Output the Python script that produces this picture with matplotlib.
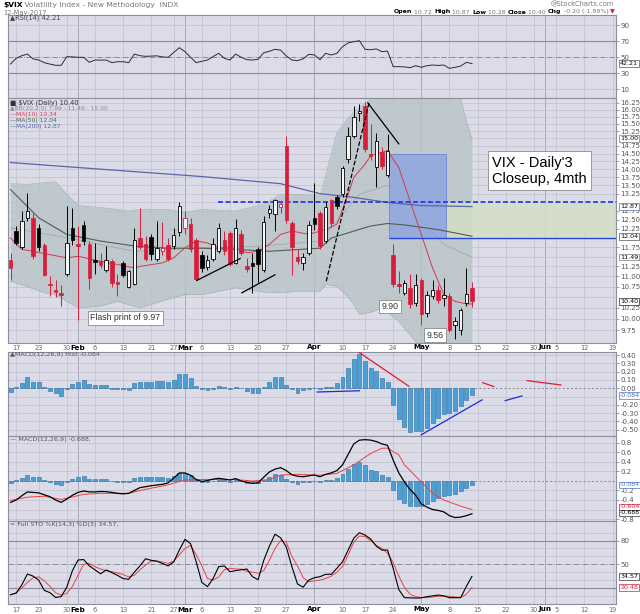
import numpy as np
import pandas as pd
import matplotlib
matplotlib.use("Agg")
import matplotlib.pyplot as plt
from matplotlib.patches import Rectangle
from matplotlib.ticker import NullLocator

W, H = 640, 614

# trading calendar: Jan 13 - May 12 2017 data, axis runs on to Jun 19
holidays = ["2017-01-16", "2017-02-20", "2017-04-14", "2017-05-29"]
days = pd.bdate_range("2017-01-13", "2017-06-20")
days = days[~days.isin(pd.to_datetime(holidays))]

# daily candles, $VIX
opens = [11.42, 12.18, 11.75, 12.55, 12.55, 12.27, 11.80, 10.80, 10.65, 10.58, 11.06, 12.27, 11.80, 12.35,
         11.82, 11.40, 11.38, 11.15, 11.40, 10.83, 11.34, 10.73, 10.81, 12.00, 11.82, 12.01, 11.45, 11.65,
         11.80, 11.78, 12.16, 12.27, 12.38, 11.93, 11.55, 11.24, 11.44, 11.64, 11.95, 12.13, 11.34, 12.09,
         11.27, 11.34, 11.69, 11.15, 12.69, 12.65, 12.86, 14.76, 12.41, 11.50, 11.34, 11.60, 12.55, 12.70,
         11.90, 13.05, 13.14, 13.23, 14.32, 15.09, 15.88, 16.15, 14.45, 14.06, 14.54, 13.82, 11.53, 10.78,
         10.60, 10.72, 10.36, 10.90, 10.13, 10.52, 10.68, 10.49, 10.52, 9.86, 9.74, 10.36, 10.72]
highs = [11.60, 12.32, 12.74, 13.28, 12.70, 12.37, 11.85, 11.00, 10.90, 10.80, 12.88, 12.83, 12.32, 12.45,
         11.90, 11.85, 11.60, 11.78, 11.45, 11.05, 11.40, 11.16, 12.27, 12.83, 12.04, 12.09, 12.46, 12.42,
         12.00, 12.27, 12.99, 12.74, 12.55, 12.00, 11.65, 11.55, 12.00, 12.41, 12.18, 12.18, 12.51, 12.20,
         11.47, 11.60, 11.75, 12.60, 12.92, 13.10, 13.00, 15.07, 12.45, 11.70, 11.60, 12.45, 13.58, 12.75,
         13.00, 13.10, 13.20, 14.10, 15.38, 16.15, 16.22, 16.28, 15.50, 15.20, 14.70, 15.15, 11.82, 11.13,
         10.92, 11.05, 11.05, 10.95, 10.65, 10.92, 10.80, 10.97, 10.60, 10.05, 10.25, 11.21, 10.87]
lows = [10.92, 11.80, 11.70, 12.45, 11.45, 11.64, 11.00, 10.52, 10.50, 10.30, 11.00, 11.80, 9.97, 11.80,
        10.70, 11.05, 11.20, 11.10, 10.73, 10.52, 10.98, 10.72, 10.78, 11.70, 11.40, 11.42, 11.40, 11.55,
        11.40, 11.70, 12.05, 12.10, 11.62, 10.90, 11.10, 11.15, 11.40, 11.60, 11.55, 11.25, 11.30, 11.55,
        11.12, 10.60, 10.85, 11.10, 12.55, 12.18, 12.70, 12.40, 11.04, 11.30, 11.15, 11.55, 12.20, 11.70,
        11.85, 12.30, 12.80, 13.15, 14.20, 15.00, 15.60, 14.55, 14.30, 13.45, 14.00, 13.75, 10.75, 10.60,
        10.55, 10.25, 10.30, 9.87, 10.05, 10.45, 10.35, 10.30, 9.70, 9.56, 9.65, 10.30, 10.28]
closes = [11.21, 11.86, 12.46, 12.74, 11.51, 11.76, 11.04, 10.78, 10.63, 10.56, 11.86, 11.95, 11.78, 11.91,
          10.95, 11.36, 11.28, 11.42, 10.85, 10.81, 11.04, 11.14, 11.95, 11.76, 11.45, 11.56, 11.73, 11.72,
          11.45, 12.06, 12.89, 12.53, 11.69, 10.93, 11.21, 11.42, 11.84, 12.27, 11.64, 11.32, 12.27, 11.60,
          11.19, 11.25, 11.31, 12.44, 12.80, 13.06, 12.95, 12.48, 11.74, 11.40, 11.50, 12.34, 12.38, 11.78,
          12.85, 12.39, 12.88, 14.03, 15.09, 15.73, 15.97, 14.64, 14.42, 14.90, 14.11, 14.60, 10.82, 10.76,
          10.84, 10.33, 10.80, 10.10, 10.56, 10.68, 10.44, 10.56, 9.76, 9.96, 10.21, 10.58, 10.40]

# overlays at sample days (trading-day number from Jan 13)
ma10_day = [0, 2, 4, 7, 10, 12, 16, 19, 22, 23, 27, 29, 31, 33, 35, 37, 40, 42, 44, 46, 48, 50, 53,
            55, 56, 58, 60, 61, 63, 64, 67, 69, 71, 73, 75, 77, 79, 81, 82]
ma10 = [11.99, 11.69, 11.64, 11.55, 11.47, 11.51, 11.38, 11.30, 11.21, 11.25, 11.34, 11.47, 11.73, 11.91,
        11.86, 11.73, 11.72, 11.60, 11.64, 11.82, 12.09, 12.18, 12.09, 12.18, 12.22, 12.37, 13.23, 13.74,
        14.16, 14.43, 14.60, 14.05, 13.03, 12.09, 11.21, 10.56, 10.40, 10.34, 10.34]
ma50_day = [0, 5, 10, 16, 22, 28, 34, 40, 46, 55, 57, 61, 64, 67, 70, 76, 82]
ma50 = [13.37, 12.55, 12.09, 11.91, 11.78, 11.72, 11.72, 11.69, 11.64, 11.72, 11.99, 12.18, 12.32, 12.39,
        12.35, 12.22, 12.04]
ma200_day = [0, 16, 34, 48, 55, 61, 67, 73, 82]
ma200 = [14.21, 14.00, 13.77, 13.55, 13.25, 13.14, 12.99, 12.90, 12.87]
bb_day = [0, 3, 6, 8, 10, 12, 16, 19, 21, 23, 28, 31, 34, 40, 45, 48, 51, 55, 56, 58, 60, 61, 62, 64,
          66, 69, 70, 73, 76, 80, 81, 82]
bb_upper = [13.55, 13.53, 13.58, 13.61, 13.23, 12.90, 12.84, 12.79, 12.74, 12.79, 12.79, 12.69, 12.79,
            12.74, 12.94, 13.23, 13.23, 13.18, 13.80, 15.20, 15.70, 15.90, 16.09, 16.40, 16.70, 17.00,
            17.00, 17.10, 17.00, 16.40, 15.60, 15.00]
bb_lower = [10.88, 10.75, 10.60, 10.55, 10.40, 10.25, 10.29, 10.40, 10.32, 10.25, 10.45, 10.56, 10.56,
            10.72, 10.62, 10.60, 10.64, 10.64, 10.80, 10.76, 10.50, 10.32, 10.10, 10.15, 10.25, 9.94,
            9.79, 9.35, 8.80, 8.30, 8.10, 7.99]
bb_mid_day = [0, 10, 22, 34, 45, 55, 58, 62, 67, 70, 73, 77, 82]
bb_mid = [12.27, 12.00, 11.64, 11.73, 11.78, 11.91, 12.46, 13.23, 13.50, 13.23, 12.46, 11.82, 11.49]

rsi = [41.6, 48.7, 52, 54, 48, 46.6, 43.3, 41.5, 40, 40, 50.8, 50.5, 50, 50, 43.7, 46.6, 46.5, 46.6, 43.3,
       44.5, 44.5, 43.3, 54, 52, 51.2, 51.5, 51.8, 50.5, 50, 56, 62, 57, 50, 43.3, 45, 46.6, 51, 55, 48.7,
       46.6, 54, 50, 47, 46.6, 47.5, 55.7, 57.5, 60, 59, 51.7, 46.6, 45.8, 48, 53.7, 53, 47, 55, 52.9, 55,
       63.3, 68, 69.5, 70.8, 60, 59.5, 60.5, 57, 57.8, 38.3, 38.3, 38, 37, 39.5, 37.5, 39.5, 40.4, 39.8,
       40.4, 36.2, 37.5, 39, 43.7, 42.2]

macd_hist = [-0.04, 0.02, 0.068, 0.13, 0.08, 0.076, 0.012, -0.028, -0.06, -0.092, -0.012, 0.052, 0.08, 0.10,
             0.048, 0.04, 0.04, 0.036, -0.004, -0.012, -0.012, -0.02, 0.06, 0.08, 0.08, 0.08, 0.092, 0.092,
             0.072, 0.10, 0.17, 0.17, 0.12, 0.028, -0.012, -0.02, -0.004, 0.028, 0.02, -0.012, 0.02, 0.008,
             -0.032, -0.052, -0.052, 0.012, 0.08, 0.14, 0.13, 0.04, -0.012, -0.06, -0.02, -0.012, 0.004,
             -0.012, 0.02, 0.02, 0.06, 0.14, 0.25, 0.35, 0.41, 0.33, 0.24, 0.21, 0.12, 0.08, -0.20, -0.37,
             -0.47, -0.53, -0.52, -0.52, -0.48, -0.42, -0.36, -0.31, -0.30, -0.27, -0.21, -0.14, -0.084]
macd_line = [-0.45, -0.40, -0.31, -0.23, -0.24, -0.25, -0.29, -0.33, -0.40, -0.45, -0.38, -0.30, -0.24,
             -0.21, -0.23, -0.23, -0.22, -0.225, -0.24, -0.26, -0.27, -0.26, -0.20, -0.14, -0.12, -0.10,
             -0.084, -0.07, -0.04, 0.06, 0.17, 0.17, 0.12, 0.03, -0.01, 0.01, 0.04, 0.056, 0.04, 0.02, 0.05,
             0.0, -0.03, -0.05, -0.04, 0.08, 0.19, 0.25, 0.28, 0.22, 0.13, 0.10, 0.09, 0.11, 0.126, 0.09,
             0.14, 0.17, 0.22, 0.34, 0.56, 0.78, 0.86, 0.87, 0.86, 0.83, 0.78, 0.75, 0.44, 0.17, -0.02,
             -0.18, -0.30, -0.48, -0.55, -0.60, -0.62, -0.65, -0.73, -0.77, -0.76, -0.73, -0.69]
signal_day = [0, 3, 6, 9, 13, 16, 21, 23, 28, 30, 31, 34, 40, 43, 46, 48, 51, 54, 55, 58, 61, 64, 66, 67,
              69, 70, 73, 75, 77, 80, 82]
signal_line = [-0.41, -0.34, -0.32, -0.39, -0.28, -0.26, -0.26, -0.20, -0.08, -0.01, 0.02, 0.03, 0.03, 0.0,
               0.03, 0.126, 0.14, 0.126, 0.12, 0.16, 0.34, 0.58, 0.69, 0.69, 0.55, 0.34, -0.02, -0.26,
               -0.40, -0.53, -0.60]

sto_k = [11.5, 13.5, 23.8, 37.7, 35, 30, 17, 14.1, 8, 9, 21, 42, 55.4, 56, 48, 43, 38, 42.8, 39.5, 36, 32,
         31, 40, 48, 57, 55, 54, 51, 48, 53, 68, 81.6, 76, 53, 27, 21.7, 32, 47, 47.8, 40.6, 42, 43, 44,
         34.3, 30.5, 55, 73, 88, 83.5, 72, 47, 25, 21, 30, 33, 34.3, 37.3, 37.3, 45, 53, 68, 83, 90, 87, 82,
         73, 68, 68, 45, 18, 7.7, 7.5, 7.2, 7.5, 9, 10, 11, 10, 7.7, 7.7, 7.7, 22, 34.6]
sto_d = [11.1, 14, 20, 27, 33, 34, 29, 22, 14, 11, 13, 22, 36, 50, 51, 47, 44, 42, 40.6, 39, 37, 34, 36,
         43, 49, 54, 54, 53, 51, 54, 62, 70, 74, 62, 48, 32, 30, 34, 43, 45, 44, 44, 41, 40, 38.6, 42, 55,
         70, 80, 78, 60, 48, 33, 28, 29, 30, 32, 35, 40, 47, 62, 78, 85.8, 85, 80, 74, 70, 64, 52, 35, 21,
         12, 9, 8, 7.7, 8.5, 9.5, 9.8, 9.5, 8.5, 8, 12, 20.5]

# hand drawn trend lines (day0, value0, day1, value1)
price_lines = [(56.1, 10.88, 63.7, 16.25, "--"), (63.5, 16.25, 69.0, 14.82, "-"),
               (33.1, 10.90, 40.8, 11.45, "-"), (41.1, 10.60, 47.0, 11.04, "-")]
hist_lines = [(54.5, -0.045, 62.0, -0.03, "blue"), (61.9, 0.434, 70.8, 0.024, "red"),
              (73.0, -0.56, 83.8, -0.14, "blue"), (83.9, 0.068, 85.9, 0.02, "red"),
              (87.9, -0.149, 90.9, -0.092, "blue"), (91.8, 0.092, 97.8, 0.04, "red")]

BG = "#dcdce9"
GRID = "#c3c3d3"
MGRID = "#a9a9bb"
RED = "#d81c3c"
XMIN, XMAX = -0.45, 107.6
n = len(closes)
x = np.arange(n)

fig = plt.figure(figsize=(W / 100, H / 100), dpi=100)
fig.patch.set_facecolor("white")


def panel(top, bottom):
    a = fig.add_axes([8 / W, 1 - bottom / H, 608 / W, (bottom - top) / H])
    a.set_facecolor(BG)
    a.set_xlim(XMIN, XMAX)
    a.set_xticks([])
    for s in a.spines.values():
        s.set_color("#8e8e9e")
        s.set_linewidth(0.8)
    a.yaxis.tick_right()
    a.tick_params(axis="y", length=2, width=0.5, pad=1, labelsize=5, labelcolor="#555555", color="#777777")
    return a


# week / month ticks from the calendar
cal = pd.Series(days)
new_week = cal.dt.isocalendar().week.astype(int).diff().fillna(0) != 0
new_month = cal.dt.month.diff().fillna(0) != 0
ticks = []
for k in range(len(cal)):
    if new_month[k]:
        ticks.append((k, cal[k].strftime("%b"), True))
    elif new_week[k]:
        ticks.append((k, str(cal[k].day), False))


def vgrid(a):
    for k, lab, m in ticks:
        a.axvline(k, color=MGRID if m else GRID, lw=0.7 if m else 0.6, zorder=0)


def hgrid(a, vals, color=GRID):
    for v in vals:
        a.axhline(v, color=color, lw=0.6, zorder=0)


def tag(a, val, txt, ec, tc="black"):
    a.annotate(txt, xy=(1, val), xycoords=("axes fraction", "data"), xytext=(3, 0),
               textcoords="offset points", fontsize=4.6, color=tc, va="center", ha="left",
               bbox=dict(boxstyle="square,pad=0.12", fc="white", ec=ec, lw=0.5), annotation_clip=False)


# ---------------- RSI
ax_rsi = panel(15, 98)
ax_rsi.set_ylim(-0.9, 102.9)
vgrid(ax_rsi)
hgrid(ax_rsi, [10, 90])
ax_rsi.axhline(70, color="#8a8a9a", lw=0.8)
ax_rsi.axhline(30, color="#8a8a9a", lw=0.8)
ax_rsi.axhline(50, color="#7a7a8a", lw=0.6, ls="-.")
ax_rsi.plot(x, rsi, color="#2b2b2b", lw=0.7)
ax_rsi.set_yticks([90, 70, 50, 30, 10])
ax_rsi.set_yticklabels(["90", "70", "50", "30", "10"])
tag(ax_rsi, 42.21, "42.21", "#555555")

# ---------------- price
ax = panel(98, 343)
ax.set_yscale("log")
ax.set_ylim(9.47, 16.43)
price_ticks = [9.75 + 0.25 * k for k in range(27)]
shown = [t for t in price_ticks if t not in (15.0, 13.0, 12.0, 11.5, 10.5)]
ax.yaxis.set_minor_locator(NullLocator())
ax.set_yticks(shown)
ax.set_yticklabels(["%.2f" % t for t in shown])
vgrid(ax)
hgrid(ax, price_ticks)

ax.fill_between(bb_day, bb_lower, bb_upper, color="#b7c4c7", alpha=0.8, lw=0, zorder=1)
ax.plot(bb_day, bb_upper, color="#a8b5b9", lw=0.5, zorder=1)
ax.plot(bb_day, bb_lower, color="#a8b5b9", lw=0.5, zorder=1)
ax.plot(bb_mid_day, bb_mid, color="#9aa6aa", lw=0.5, zorder=1)

# highlighted zones
ax.add_patch(Rectangle((77.3, 12.0), XMAX - 77.3, 1.0, fc="#d3dfc6", ec="none", alpha=0.85, zorder=1.5))
ax.add_patch(Rectangle((67.3, 12.0), 10.0, 2.5, fc="#8da4e0", ec="#5b7ad6", lw=0.6, alpha=0.8, zorder=1.6))
ax.hlines(12.0, 67.3, XMAX, color="#2646d8", lw=1.0, zorder=4)
ax.hlines(13.0, 36.9, XMAX, color="#1a36e6", lw=1.2, ls=(0, (3, 1.5)), zorder=4)

ax.plot(ma200_day, ma200, color="#5a66a8", lw=0.9, zorder=2)
ax.plot(ma50_day, ma50, color="#4f5e50", lw=0.8, zorder=2)
ax.plot(ma10_day, ma10, color="#d8384a", lw=0.7, zorder=3)

for k in range(n):
    o, h, l, c = opens[k], highs[k], lows[k], closes[k]
    prev = closes[k - 1] if k > 0 else o
    col = RED if c < prev else "black"
    ax.vlines(k, l, h, color=col, lw=0.7, zorder=5)
    lo, hi = min(o, c), max(o, c)
    hi = max(hi, lo * 1.004)
    if c < o:
        ax.bar(k, hi - lo, bottom=lo, width=0.62, color=col, edgecolor=col, lw=0.5, zorder=6)
    else:
        ax.bar(k, hi - lo, bottom=lo, width=0.62, color="#f6f6fa", edgecolor=col, lw=0.6, zorder=6)

for x0, y0, x1, y1, st in price_lines:
    ax.plot([x0, x1], [y0, y1], color="black", lw=0.9, ls=st, zorder=7)

box = dict(boxstyle="square,pad=0.25", fc="white", ec="#8a8a8a", lw=0.6)
ax.text(14.2, 10.02, "Flash print of 9.97", fontsize=6.3, family="Liberation Sans", color="#333333",
        va="center", bbox=box, zorder=8)
ax.text(65.9, 10.28, "9.90", fontsize=6.3, family="Liberation Sans", color="#333333", va="center",
        bbox=box, zorder=8)
ax.text(73.9, 9.64, "9.56", fontsize=6.3, family="Liberation Sans", color="#333333", va="center",
        bbox=box, zorder=8)
ax.text(85.6, 13.95, "VIX - Daily'3\nCloseup, 4mth", fontsize=10.5, family="Liberation Sans",
        color="black", va="center", linespacing=1.2,
        bbox=dict(boxstyle="square,pad=0.3", fc="white", ec="#8a8a8a", lw=0.6), zorder=8)

tag(ax, 15.00, "15.00", "#777777")
tag(ax, 12.87, "12.87", "#5a66a8")
tag(ax, 12.04, "12.04", "#555555")
tag(ax, 11.49, "11.49", "#777777")
tag(ax, 10.40, "10.40", "#222222")

# ---------------- MACD histogram
ax_h = panel(352, 436)
ax_h.set_ylim(-0.575, 0.437)
vgrid(ax_h)
hgrid(ax_h, [0.4, 0.3, 0.2, 0.1, -0.1, -0.2, -0.3, -0.4, -0.5])
ax_h.axhline(0, color="#6a6a7a", lw=0.5, ls=(0, (3, 3)))
ax_h.bar(x, macd_hist, width=0.7, color="#4aa0d6", edgecolor="#2c6f9e", lw=0.4, zorder=3)
for x0, y0, x1, y1, c in hist_lines:
    ax_h.plot([x0, x1], [y0, y1], color="#1a2ae0" if c == "blue" else "#e01a2a", lw=0.9, zorder=4)
hticks = [0.4, 0.3, 0.2, 0.1, 0.0, -0.2, -0.3, -0.4, -0.5]
ax_h.set_yticks(hticks)
ax_h.set_yticklabels(["%.2f" % v for v in hticks])
tag(ax_h, -0.084, "-0.084", "#4a70c8", "#4a70c8")

# ---------------- MACD
ax_m = panel(436, 521)
ax_m.set_ylim(-0.842, 0.947)
vgrid(ax_m)
hgrid(ax_m, [0.8, 0.6, 0.4, 0.2, -0.2, -0.4, -0.6, -0.8])
ax_m.axhline(0, color="#6a6a7a", lw=0.5, ls=(0, (3, 3)))
ax_m.bar(x, macd_hist, width=0.7, color="#4aa0d6", edgecolor="#2c6f9e", lw=0.4, zorder=3)
ax_m.plot(signal_day, signal_line, color="#f04040", lw=0.7, zorder=4)
ax_m.plot(x, macd_line, color="black", lw=0.9, zorder=5)
mticks = [0.8, 0.6, 0.4, 0.2, -0.2, -0.4, -0.8]
ax_m.set_yticks(mticks)
ax_m.set_yticklabels(["%.1f" % v for v in mticks])
tag(ax_m, -0.084, "-0.084", "#4a70c8", "#4a70c8")
tag(ax_m, -0.545, "-0.604", RED, RED)
tag(ax_m, -0.672, "-0.688", "#333333")

# ---------------- Full stochastics
ax_s = panel(521, 604)
ax_s.set_ylim(-0.3, 104.8)
vgrid(ax_s)
hgrid(ax_s, [10, 30, 40, 60, 70, 90])
ax_s.axhline(80, color="#8a8a9a", lw=0.8)
ax_s.axhline(20, color="#8a8a9a", lw=0.8)
ax_s.axhline(50, color="#7a7a8a", lw=0.6, ls="-.")
ax_s.plot(x, sto_d, color="#f04040", lw=0.7)
ax_s.plot(x, sto_k, color="black", lw=0.8)
ax_s.set_yticks([80, 50])
ax_s.set_yticklabels(["80", "50"])
tag(ax_s, 34.57, "34.57", "#333333")
tag(ax_s, 20.48, "20.48", RED, RED)

# date labels: strip under the price panel and below the last panel
for k, lab, m in ticks:
    for a, yy in ((ax_h, 1 + 4.5 / 84), (ax_s, -5.5 / 83)):
        a.text(k, yy, lab, transform=a.get_xaxis_transform(), ha="center", va="center",
               fontsize=5.2 if m else 4.8, fontweight="bold" if m else "normal",
               color="black" if m else "#666666", clip_on=False)


# ---------------- header and legends
def line_of_text(parts, x0, y0, size=5.0):
    t = fig.text(x0 / W, 1 - y0 / H, parts[0][0], color=parts[0][1], fontsize=size,
                 fontweight=parts[0][2], va="center", ha="left")
    for txt, col, wt in parts[1:]:
        t = ax_rsi.annotate(txt, xy=(1, 0.5), xycoords=t, va="center", ha="left", color=col,
                            fontsize=size, fontweight=wt, annotation_clip=False)


def line_right(parts, x1, y0, size=5.0):
    t = fig.text(x1 / W, 1 - y0 / H, parts[-1][0], color=parts[-1][1], fontsize=size,
                 fontweight=parts[-1][2], va="center", ha="right")
    for txt, col, wt in reversed(parts[:-1]):
        t = ax_rsi.annotate(txt, xy=(0, 0.5), xycoords=t, va="center", ha="right", color=col,
                            fontsize=size, fontweight=wt, annotation_clip=False)


line_of_text([("$VIX", "black", "bold"), (" Volatility Index - New Methodology  INDX", "#777777", "normal")],
             3, 5, 5.4)
fig.text(3 / W, 1 - 13 / H, "12-May-2017", fontsize=4.8, color="#777777", va="center")
fig.text(614 / W, 1 - 4 / H, "@StockCharts.com", fontsize=4.8, color="#777777", va="center", ha="right")
line_right([("Open", "black", "bold"), (" 10.72 ", "#777777", "normal"), ("High", "black", "bold"),
            (" 10.87 ", "#777777", "normal"), ("Low", "black", "bold"), (" 10.28 ", "#777777", "normal"),
            ("Close", "black", "bold"), (" 10.40 ", "#777777", "normal"), ("Chg", "black", "bold"),
            (" -0.20 (-1.89%) ", "#777777", "normal"), ("\u25bc", RED, "normal")], 615, 12, 4.5)

line_of_text([("\u25b2RSI(14) 42.21", "#444444", "normal")], 10, 18, 4.8)
line_of_text([("\u25a0 $VIX (Daily) 10.40", "#333333", "normal")], 10, 102.5, 4.8)
line_of_text([("\u25b2BB(20,2.0) 7.99 - 11.49 - 15.00", "#8a8a8a", "normal")], 10, 108.5, 4.3)
line_of_text([("\u2014MA(10) 10.34", "#d8384a", "normal")], 10, 114.5, 4.3)
line_of_text([("\u2014MA(50) 12.04", "#4f5e50", "normal")], 10, 120.5, 4.3)
line_of_text([("\u2014MA(200) 12.87", "#5a66a8", "normal")], 10, 126.5, 4.3)
line_of_text([("\u25b2MACD(12,26,9) Hist -0.084", "#555555", "normal")], 10, 354.5, 4.6)
line_of_text([("\u2014 MACD(12,26,9) -0.688, ", "#555555", "normal"), ("-0.604, ", RED, "normal"),
              ("-0.084", "#5a7ad0", "normal")], 10, 439.5, 4.6)
line_of_text([("= Full STO %K(14,3) %D(3) 34.57, ", "#555555", "normal"), ("20.48", RED, "normal")],
             10, 524.5, 4.6)

fig.savefig("out.png", dpi=100, facecolor="white")
